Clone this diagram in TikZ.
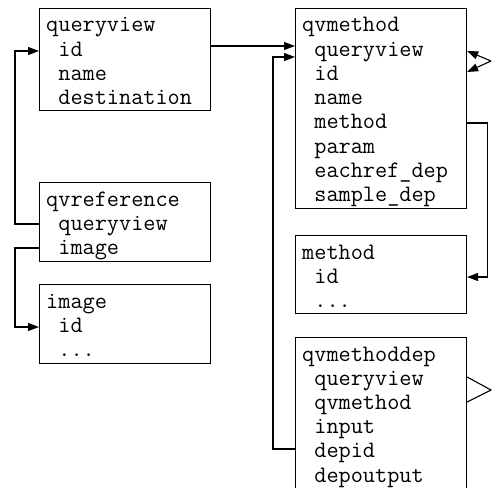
\documentclass[tikz,border=0pt]{standalone}
\usepackage{fontspec}
\usetikzlibrary{arrows.meta,calc}

\tikzset{
  tbl/.style={draw, line width=1.1pt, rectangle, inner sep=0pt, anchor=north west, minimum width=171pt},
  fields/.style={anchor=base west, inner sep=0pt, font=\ttfamily\fontsize{23.6pt}{24.2pt}\selectfont},
  link/.style={line width=1.1pt},
  arr/.style={link, -{Triangle[length=11pt,width=8pt]}},
}
% table layout: name on the first line, indented columns below
\newcommand{\fieldlist}[1]{\begin{tabular}[t]{@{}l@{}}#1\end{tabular}}
\newcommand{\col}{\hphantom{x}}

\begin{document}
\begin{tikzpicture}[x=1pt,y=-1pt]
  \useasboundingbox (0,0) rectangle (492,487);
  \setlength{\tabcolsep}{0pt}

  % tables on the left
  \node[tbl, minimum height=102pt] (qv) at (39,8) {};
  \node[fields] (qvtxt) at (46,32) {\fieldlist{queryview\\ \col id\\ \col name\\ \col destination}};

  \node[tbl, minimum height=79pt] (qvr) at (39,182) {};
  \node[fields] (qvrtxt) at (46,206) {\fieldlist{qvreference\\ \col queryview\\ \col image}};

  \node[tbl, minimum height=79pt] (img) at (39,284) {};
  \node[fields] (imgtxt) at (46,308) {\fieldlist{image\\ \col id\\ \col ...}};

  % tables on the right
  \node[tbl, minimum height=200pt] (qvm) at (295,8) {};
  \node[fields] (qvmtxt) at (302,32) {\fieldlist{qvmethod\\ \col queryview\\ \col id\\ \col name\\ \col method\\ \col param\\ \col eachref\_dep\\ \col sample\_dep}};

  \node[tbl, minimum height=78pt] (mth) at (295,235) {};
  \node[fields] (mthtxt) at (302,259) {\fieldlist{method\\ \col id\\ \col ...}};

  \node[tbl, minimum height=160pt] (qvmd) at (295,337) {};
  \node[fields] (qvmdtxt) at (302,361) {\fieldlist{qvmethoddep\\ \col queryview\\ \col qvmethod\\ \col input\\ \col depid\\ \col depoutput}};

  % references between tables
  \draw[arr] ($(qv.north east)+(0,38)$) -- ($(qvm.north west)+(0,38)$);
  \draw[arr] ($(qvmd.north west)+(0,112)$) -- ++(-22,0) |- ($(qvm.north west)+(0,49)$);
  \draw[arr] ($(qvr.north west)+(0,42)$) -- ++(-24,0) |- ($(qv.north west)+(0,43)$);
  \draw[arr] ($(qvr.north west)+(0,66)$) -- ++(-24,0) |- ($(img.north west)+(0,43)$);
  \draw[arr] ($(qvm.north east)+(0,115)$) -- ++(20,0) |- ($(mth.north east)+(0,42)$);

  % outgoing stubs on the right
  \coordinate (selfref) at (491,61);
  \draw[arr] (selfref) -- ($(qvm.north east)+(0,43)$);
  \draw[arr] (selfref) -- ($(qvm.north east)+(0,64)$);
  \coordinate (depref) at (491,390);
  \draw[link] ($(qvmd.north east)+(0,40)$) -- (depref) -- ($(qvmd.north east)+(0,65)$);
\end{tikzpicture}
\end{document}
